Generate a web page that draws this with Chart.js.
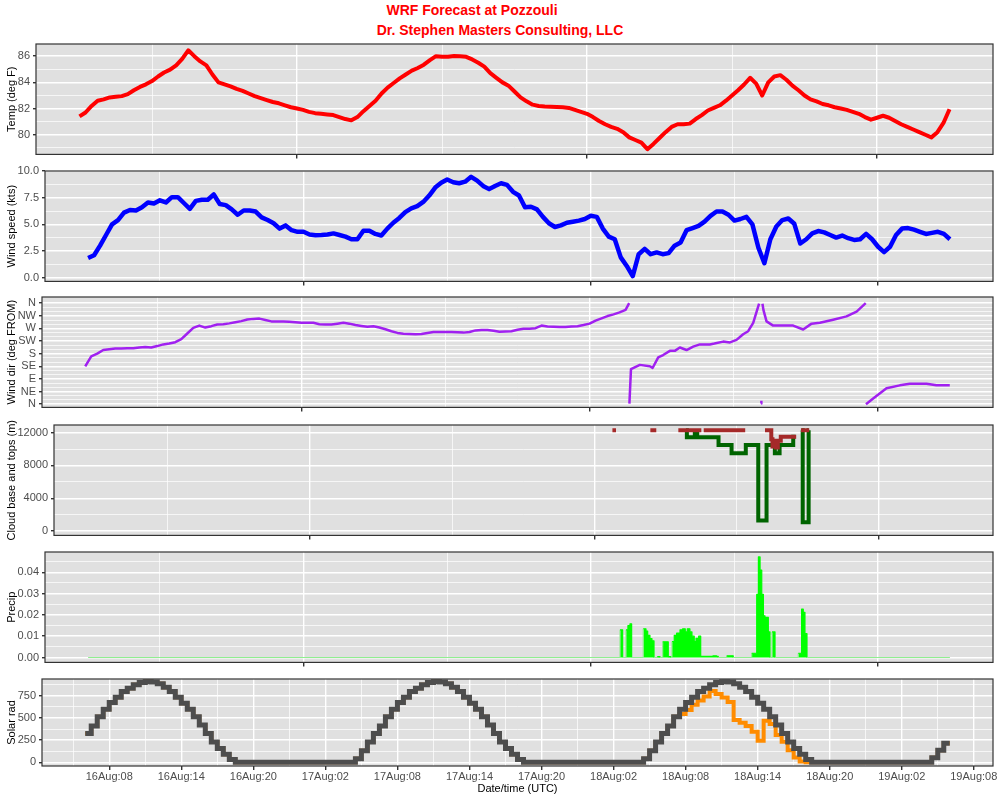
<!DOCTYPE html>
<html>
<head>
<meta charset="utf-8">
<title>WRF Forecast at Pozzouli</title>
<script src="https://cdn.jsdelivr.net/npm/chart.js@4.4.1/dist/chart.umd.min.js"></script>
<style>
  body { margin: 0; background: #fff; }
  #page { position: relative; width: 1000px; height: 800px; overflow: hidden; font-family: "Liberation Sans", Arial, sans-serif; }
  .title { position: absolute; color: #ff0000; font-weight: bold; font-size: 14px; white-space: nowrap; transform: translate(-50%, -50%); }
  canvas { position: absolute; left: 0; }
</style>
</head>
<body>
<div id="page">
  <div class="title" style="left:472px;top:10px">WRF Forecast at Pozzouli</div>
  <div class="title" style="left:500px;top:30px">Dr. Stephen Masters Consulting, LLC</div>
</div>
<script>
// hours counted from 16Aug 00:00 UTC, half-hourly series start at 06:00
const START_HOUR = 6;
const STEP_HOURS = 0.5;

const tempF = [
  81.4, 81.7, 82.2, 82.6, 82.7, 82.85, 82.9, 82.95, 83.1, 83.4, 83.65, 83.85,
  84.1, 84.45, 84.75, 84.97, 85.3, 85.8, 86.45, 86.0, 85.6, 85.3, 84.6, 84.0,
  83.85, 83.7, 83.5, 83.35, 83.15, 82.95, 82.8, 82.65, 82.5, 82.4, 82.25, 82.1,
  82.0, 81.9, 81.75, 81.65, 81.6, 81.55, 81.5, 81.35, 81.2, 81.1, 81.35, 81.8,
  82.2, 82.6, 83.15, 83.6, 83.95, 84.3, 84.6, 84.9, 85.1, 85.35, 85.7, 86.0,
  85.95, 85.95, 86.02, 86.0, 85.95, 85.75, 85.5, 85.2, 84.7, 84.35, 84.0, 83.75,
  83.3, 82.85, 82.55, 82.3, 82.2, 82.15, 82.14, 82.12, 82.1, 82.05, 81.9, 81.75,
  81.6, 81.35, 81.05, 80.8, 80.6, 80.45, 80.2, 79.8, 79.6, 79.4, 78.9, 79.3,
  79.75, 80.2, 80.6, 80.8, 80.8, 80.85, 81.2, 81.5, 81.85, 82.05, 82.25, 82.6,
  83.0, 83.4, 83.84, 84.35, 83.9, 83.0, 84.0, 84.45, 84.55, 84.2, 83.75, 83.4,
  83.0, 82.7, 82.55, 82.35, 82.25, 82.1, 82.0, 81.9, 81.75, 81.6, 81.35, 81.15,
  81.3, 81.45, 81.3, 81.05, 80.8, 80.6, 80.4, 80.2, 80.0, 79.8, 80.2, 80.9,
  81.95
];

const windKts = [
  1.85, 2.1, 3.0, 4.0, 5.0, 5.4, 6.1, 6.35, 6.3, 6.6, 7.05, 6.95,
  7.25, 7.05, 7.55, 7.55, 7.0, 6.45, 7.2, 7.3, 7.3, 7.8, 6.9, 6.8,
  6.4, 5.9, 6.3, 6.3, 6.2, 5.65, 5.4, 5.1, 4.6, 4.9, 4.45, 4.3,
  4.3, 4.05, 3.97, 4.0, 4.05, 4.15, 4.0, 3.85, 3.6, 3.6, 4.4, 4.4,
  4.1, 3.95, 4.6, 5.15, 5.6, 6.15, 6.5, 6.7, 7.1, 7.7, 8.45, 8.9,
  9.2, 8.95, 8.85, 9.0, 9.45, 9.1, 8.6, 8.3, 8.6, 8.85, 8.7, 8.05,
  7.7, 6.6, 6.65, 6.4, 5.7, 5.1, 4.75, 4.9, 5.15, 5.25, 5.35, 5.5,
  5.8, 5.7, 4.6, 3.85, 3.6, 1.9, 1.1, 0.15, 2.2, 2.7, 2.2, 2.37,
  2.2, 2.3, 3.0, 3.3, 4.45, 4.65, 4.85, 5.25, 5.8, 6.2, 6.2, 5.9,
  5.35, 5.5, 5.7, 5.0, 2.8, 1.35, 3.6, 4.8, 5.4, 5.55, 5.05, 3.2,
  3.6, 4.15, 4.37, 4.25, 4.0, 3.76, 3.95, 3.7, 3.54, 3.6, 4.1, 3.6,
  2.9, 2.4, 2.9, 4.0, 4.6, 4.65, 4.5, 4.3, 4.1, 4.2, 4.3, 4.1,
  3.6
];

// wind direction wraps round at N, null breaks the line there
const dirHours = [
  6, 6.5, 7, 7.5, 8, 8.5, 9, 9.5, 10, 10.5, 11, 11.5,
  12, 12.5, 13, 13.5, 14, 14.5, 15, 15.5, 16, 16.5, 17, 17.5,
  18, 18.5, 19, 19.5, 20, 20.5, 21, 21.5, 22, 22.5, 23, 23.5,
  24, 24.5, 25, 25.5, 26, 26.5, 27, 27.5, 28, 28.5, 29, 29.5,
  30, 30.5, 31, 31.5, 32, 32.5, 33, 33.5, 34, 34.5, 35, 35.5,
  36, 36.5, 37, 37.5, 38, 38.5, 39, 39.5, 40, 40.5, 41, 41.5,
  42, 42.5, 43, 43.5, 44, 44.5, 45, 45.5, 46, 46.5, 47, 47.5,
  48, 48.5, 49, 49.5, 50, 50.5, 51, 51.3, 51.31,
  51.32, 51.45, 52.19, 53.02, 53.25, 53.72, 54.13, 54.69, 55.1, 55.52, 56.08, 56.63,
  57.19, 58.02, 58.4, 59.13, 59.69, 60.24, 60.79, 61.21, 61.63, 61.96, 62.12, 62.2,
  62.29, 62.31, 62.34,
  62.4, 62.48, 62.74, 63.29, 64.96, 65.79, 66.49, 67.18, 68.29, 69.4, 70.24, 71.0, 71.01,
  71.02, 71.62, 72.73, 73.84, 74.67, 76.06, 76.89, 78
];
const dirDeg = [
  135, 170, 180, 193, 196, 198, 198, 199, 199, 202, 204, 202,
  207, 213, 216, 221, 232, 252, 272, 280, 273, 278, 284, 285,
  288, 292, 296, 302, 304, 305, 300, 295, 295, 295, 294, 292,
  290, 290, 290, 285, 284, 284, 287, 290, 287, 282, 279, 276,
  278, 273, 267, 260, 254, 251, 250, 249, 250, 254, 257, 257,
  257, 257, 256, 255, 257, 263, 264, 264, 262, 258, 259, 260,
  265, 269, 269, 271, 280, 277, 276, 275, 275, 277, 278, 282,
  287, 298, 306, 314, 320, 327, 336, 360, null,
  2, 125, 140, 135, 129, 167, 175, 190, 190, 202, 193, 205,
  213, 213, 216, 223, 220, 229, 249, 260, 290, 336, 358, null,
  2, 12, null,
  358, 336, 295, 280, 280, 266, 287, 290, 301, 313, 330, 360, null,
  0, 20, 57, 67, 73, 73, 67, 67
];

const cloudBaseHours = [55.7, 55.78, 56.45, 56.65, 58.45, 59.55, 60.75, 61.8, 62.5, 63.2, 63.6, 64.75, 64.95, 65.2, 65.45, 65.55, 66.05, 66.06];
const cloudBaseM = [12300, 11450, 12000, 11450, 10500, 9500, 10500, 1280, 10500, 9500, 10500, 11500, 11500, null, 12300, 1080, 12300, 12300];

const cloudTopHours = [49.5, 49.8, 49.81, 52.7, 53.2, 53.21, 55.06, 57.0, 57.01, 57.2, 60.7, 60.71, 62.37, 62.9, 63.0, 63.15, 63.3, 63.45, 63.7, 65.0, 65.01, 65.4, 66.1];
const cloudTopM = [12300, 12300, null, 12300, 12300, null, 12300, 12300, null, 12300, 12300, null, 12300, 11200, 10300, 11000, 10200, 11000, 11500, 11500, null, 12300, 12300];

const precipHours = [
  6, 50.44, 50.66, 50.94, 51.1, 51.27, 51.41, 52.38, 52.61, 52.75, 52.94, 53.11, 53.28,
  53.55, 53.78, 54.0, 54.47, 54.7, 54.78, 54.97, 55.17, 55.45, 55.67, 55.89, 56.06,
  56.28, 56.45, 56.64, 56.79, 57.01, 57.18, 58.2, 58.51, 58.65, 59.35, 59.9,
  61.44, 61.86, 62.0, 62.14, 62.28, 62.42, 62.55, 62.83, 62.97, 63.14, 63.39,
  65.33, 65.61, 65.75, 65.89, 66.06, 78
];
const precipIn = [
  0, 0.013, 0, 0.013, 0.015, 0.0158, 0, 0.0135, 0.0124, 0.0104, 0.0089, 0.0078, 0,
  0.0004, 0, 0.0074, 0.0004, 0, 0.0075, 0.0104, 0.0115, 0.013, 0.0135, 0.012, 0.0135,
  0.012, 0.010, 0.0075, 0.009, 0.010, 0.0005, 0.0008, 0.0005, 0, 0.0008, 0,
  0.002, 0.0296, 0.0472, 0.041, 0.0296, 0.0196, 0.0188, 0.012, 0, 0.012, 0,
  0.002, 0.0227, 0.0212, 0.0112, 0, 0
];

const solarClear = [
  326, 409, 515, 599, 674, 735, 799, 837, 875, 900, 910, 905,
  886, 848, 799, 735, 667, 599, 515, 420, 326, 230, 155, 90,
  30, 0, 0, 0, 0, 0, 0, 0, 0, 0, 0, 0,
  0, 0, 0, 0, 0, 0, 0, 0, 0, 40, 130, 230,
  326, 409, 515, 599, 674, 735, 799, 837, 875, 900, 910, 905,
  886, 848, 799, 735, 667, 599, 515, 420, 326, 230, 155, 90,
  30, 0, 0, 0, 0, 0, 0, 0, 0, 0, 0, 0,
  0, 0, 0, 0, 0, 0, 0, 0, 0, 40, 130, 230,
  326, 409, 515, 599, 674, 735, 799, 837, 875, 900, 910, 905,
  886, 848, 799, 735, 667, 599, 515, 420, 326, 230, 155, 90,
  30, 0, 0, 0, 0, 0, 0, 0, 0, 0, 0, 0,
  0, 0, 0, 0, 0, 0, 0, 0, 0, 50, 136, 216,
  216
];
const solarActual = [
  326, 409, 515, 599, 674, 735, 799, 837, 875, 900, 910, 905,
  886, 848, 799, 735, 667, 599, 515, 420, 326, 230, 155, 90,
  30, 0, 0, 0, 0, 0, 0, 0, 0, 0, 0, 0,
  0, 0, 0, 0, 0, 0, 0, 0, 0, 40, 130, 230,
  326, 409, 515, 599, 674, 735, 799, 837, 875, 900, 910, 905,
  886, 848, 799, 735, 667, 599, 515, 420, 326, 230, 155, 90,
  30, 0, 0, 0, 0, 0, 0, 0, 0, 0, 0, 0,
  0, 0, 0, 0, 0, 0, 0, 0, 0, 40, 130, 230,
  326, 409, 515, 545, 590, 648, 697, 742, 805, 770, 730, 680,
  477, 447, 409, 345, 242, 470, 432, 307, 231, 136, 53, 10,
  0, 0, 0, 0, 0, 0, 0, 0, 0, 0, 0, 0,
  0, 0, 0, 0, 0, 0, 0, 0, 0, 50, 136, 216,
  216
];

const xTickHours = [8, 14, 20, 26, 32, 38, 44, 50, 56, 62, 68, 74, 80];
const xTickLabels = ['16Aug:08', '16Aug:14', '16Aug:20', '17Aug:02', '17Aug:08', '17Aug:14', '17Aug:20',
  '18Aug:02', '18Aug:08', '18Aug:14', '18Aug:20', '19Aug:02', '19Aug:08'];
const xMinorHours = [5, 11, 17, 23, 29, 35, 41, 47, 53, 59, 65, 71, 77];
const dayHours = [24, 48, 72];
const noonHours = [12, 36, 60];
const dirTicks = [0, 45, 90, 135, 180, 225, 270, 315, 360];
const dirTickLabels = ['N', 'NE', 'E', 'SE', 'S', 'SW', 'W', 'NW', 'N'];

const X_RANGE = [2.4, 81.6];

Chart.defaults.font.family = '"Liberation Sans", Arial, sans-serif';
Chart.defaults.font.size = 11;
Chart.defaults.color = '#4D4D4D';

const panelFrame = {
  id: 'panelFrame',
  beforeDraw(chart) {
    const { ctx, chartArea: a } = chart;
    ctx.save();
    ctx.fillStyle = '#E0E0E0';
    ctx.fillRect(a.left, a.top, a.right - a.left, a.bottom - a.top);
    ctx.restore();
  },
  afterDraw(chart) {
    const { ctx, chartArea: a } = chart;
    ctx.save();
    ctx.strokeStyle = '#333333';
    ctx.lineWidth = 1.2;
    ctx.strokeRect(a.left, a.top, a.right - a.left, a.bottom - a.top);
    ctx.restore();
  }
};

function series(values) {
  return values.map((v, i) => ({ x: START_HOUR + i * STEP_HOURS, y: v }));
}
function pairs(hours, values) {
  return hours.map((h, i) => ({ x: h, y: values[i] }));
}

function makePanel(p) {
  const PAD_TOP = 10;
  const axisH = p.xLabels ? 34 : 8;
  const canvas = document.createElement('canvas');
  canvas.width = 1000;
  canvas.height = PAD_TOP + (p.bottom - p.top) + axisH;
  canvas.style.top = (p.top - PAD_TOP) + 'px';
  document.getElementById('page').appendChild(canvas);

  const xMajor = new Set(p.xMajor);
  const yMajor = new Set(p.yMajor);
  const xTicks = p.xMajor.concat(p.xMinor);
  const yTicks = p.yMajor.concat(p.yMinor);

  new Chart(canvas, {
    type: 'line',
    data: { datasets: p.datasets },
    options: {
      responsive: false,
      animation: false,
      layout: { padding: { top: PAD_TOP, right: 7, bottom: 0, left: 0 } },
      plugins: { legend: { display: false }, tooltip: { enabled: false } },
      elements: { point: { radius: 0 }, line: { tension: 0, borderJoinStyle: 'round' } },
      scales: {
        x: {
          type: 'linear',
          min: X_RANGE[0],
          max: X_RANGE[1],
          afterBuildTicks: s => { s.ticks = xTicks.map(v => ({ value: v })); },
          afterFit: s => { s.height = axisH; },
          border: { display: false },
          grid: {
            color: '#FFFFFF',
            lineWidth: c => xMajor.has(c.tick.value) ? 1.4 : 0.7,
            tickLength: 4,
            tickColor: c => xMajor.has(c.tick.value) ? '#333333' : 'rgba(0,0,0,0)'
          },
          ticks: {
            display: !!p.xLabels,
            autoSkip: false,
            maxRotation: 0,
            padding: 0,
            color: '#4D4D4D',
            callback: v => p.xLabels ? (p.xLabels[p.xMajor.indexOf(v)] || '') : ''
          },
          title: p.xTitle
            ? { display: true, text: p.xTitle, color: '#000000', font: { size: 11 }, padding: { top: 0, bottom: 4 } }
            : { display: false }
        },
        y: {
          min: p.yMin,
          max: p.yMax,
          afterBuildTicks: s => { s.ticks = yTicks.map(v => ({ value: v })); },
          afterFit: s => { s.width = p.left; },
          border: { display: false },
          grid: {
            color: '#FFFFFF',
            lineWidth: c => yMajor.has(c.tick.value) ? 1.4 : 0.7,
            tickLength: 3,
            tickColor: c => yMajor.has(c.tick.value) ? '#333333' : 'rgba(0,0,0,0)'
          },
          ticks: {
            autoSkip: false,
            padding: 3,
            color: '#4D4D4D',
            callback: v => yMajor.has(v) ? p.yFormat(v) : ''
          },
          title: { display: true, text: p.yTitle, color: '#000000', font: { size: 11 }, padding: { top: 5, bottom: 0 } }
        }
      }
    },
    plugins: [panelFrame]
  });
}

// Temperature
makePanel({
  top: 44, bottom: 156, left: 36,
  yMin: 78.5, yMax: 86.93,
  yMajor: [80, 82, 84, 86], yMinor: [79, 81, 83, 85],
  yFormat: v => String(v),
  yTitle: 'Temp (deg F)',
  xMajor: dayHours, xMinor: noonHours,
  datasets: [{ data: series(tempF), borderColor: '#FF0000', borderWidth: 4 }]
});

// Wind speed
makePanel({
  top: 171, bottom: 283, left: 45,
  yMin: -0.35, yMax: 10.0,
  yMajor: [0, 2.5, 5, 7.5, 10], yMinor: [1.25, 3.75, 6.25, 8.75],
  yFormat: v => v.toFixed(1),
  yTitle: 'Wind speed (kts)',
  xMajor: dayHours, xMinor: noonHours,
  datasets: [{ data: series(windKts), borderColor: '#0000FF', borderWidth: 4.5 }]
});

// Wind direction
makePanel({
  top: 297, bottom: 409, left: 42,
  yMin: -11.6, yMax: 382,
  yMajor: dirTicks,
  yMinor: [15, 30, 60, 75, 105, 120, 150, 165, 195, 210, 240, 255, 285, 300, 330, 345],
  yFormat: v => dirTickLabels[dirTicks.indexOf(v)],
  yTitle: 'Wind dir (deg FROM)',
  xMajor: dayHours, xMinor: noonHours,
  datasets: [{ data: pairs(dirHours, dirDeg), borderColor: '#A020F0', borderWidth: 2.5 }]
});

// Cloud base and tops
makePanel({
  top: 425, bottom: 537, left: 54,
  yMin: -530, yMax: 12930,
  yMajor: [0, 4000, 8000, 12000], yMinor: [2000, 6000, 10000],
  yFormat: v => String(v),
  yTitle: 'Cloud base and tops (m)',
  xMajor: dayHours, xMinor: noonHours,
  datasets: [
    { data: pairs(cloudTopHours, cloudTopM), borderColor: '#A52A2A', borderWidth: 4, stepped: true, borderJoinStyle: 'miter' },
    { data: pairs(cloudBaseHours, cloudBaseM), borderColor: '#006400', borderWidth: 4, stepped: true, borderJoinStyle: 'miter' }
  ]
});

// Precipitation
makePanel({
  top: 552, bottom: 664, left: 45,
  yMin: -0.0023, yMax: 0.0495,
  yMajor: [0, 0.01, 0.02, 0.03, 0.04], yMinor: [0.005, 0.015, 0.025, 0.035, 0.045],
  yFormat: v => v.toFixed(2),
  yTitle: 'Precip',
  xMajor: dayHours, xMinor: noonHours,
  datasets: [{
    data: pairs(precipHours, precipIn),
    stepped: true,
    fill: 'origin',
    backgroundColor: '#00FF00',
    borderColor: '#00FF00',
    borderWidth: 1.2,
    segment: { borderColor: c => c.p0.parsed.y === 0 ? '#90EE90' : '#00FF00' }
  }]
});

// Solar radiation
makePanel({
  top: 679, bottom: 766, left: 42,
  yMin: -42, yMax: 940,
  yMajor: [0, 250, 500, 750], yMinor: [125, 375, 625, 875],
  yFormat: v => String(v),
  yTitle: 'Solar rad',
  xMajor: xTickHours, xMinor: xMinorHours,
  xLabels: xTickLabels,
  xTitle: 'Date/time (UTC)',
  datasets: [
    { data: series(solarClear), borderColor: '#4D4D4D', borderWidth: 5, stepped: true, borderJoinStyle: 'miter' },
    { data: series(solarActual), borderColor: '#FF8C00', borderWidth: 4, stepped: true, borderJoinStyle: 'miter' }
  ]
});
</script>
</body>
</html>
